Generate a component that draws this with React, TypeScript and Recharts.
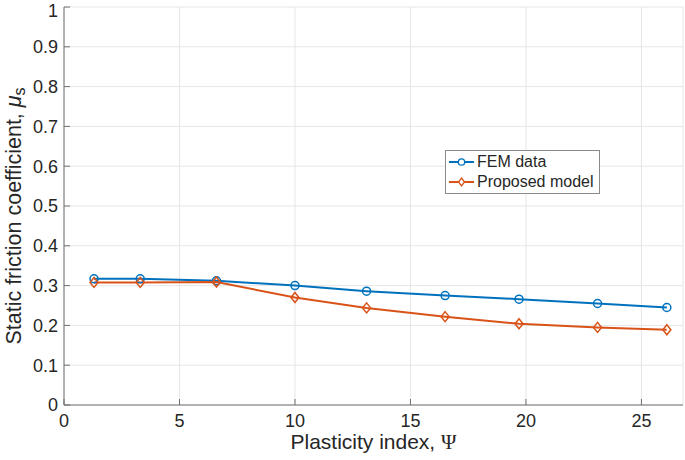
import { CartesianGrid, Legend, Line, LineChart, XAxis, YAxis } from "recharts";

const psi = [1.3, 3.3, 6.6, 10, 13.1, 16.5, 19.7, 23.1, 26.1];
const femData = [0.317, 0.317, 0.312, 0.3, 0.286, 0.275, 0.266, 0.255, 0.245];
const proposedModel = [0.308, 0.308, 0.309, 0.27, 0.244, 0.222, 0.204, 0.195, 0.189];
const xTicks = [0, 5, 10, 15, 20, 25];
const yTicks = [0, 0.1, 0.2, 0.3, 0.4, 0.5, 0.6, 0.7, 0.8, 0.9, 1];

const BLUE = "#0072BD";
const ORANGE = "#D95319";
const AXIS = "#707070";
const TEXT = "#262626";
const FONT = "'Liberation Sans', Arial, sans-serif";
const SERIF = "'Liberation Serif', 'Times New Roman', serif";

const rows = psi.map((x, i) => ({ psi: x, fem: femData[i], model: proposedModel[i] }));

const circleDot = (p: any) => (
  <circle key={`c${p.index}`} cx={p.cx} cy={p.cy} r={4} fill="none" stroke={BLUE} strokeWidth={1.5} />
);

const diamondDot = (p: any) => (
  <polygon
    key={`d${p.index}`}
    points={`${p.cx},${p.cy - 5} ${p.cx + 4},${p.cy} ${p.cx},${p.cy + 5} ${p.cx - 4},${p.cy}`}
    fill="none"
    stroke={ORANGE}
    strokeWidth={1.5}
  />
);

function LegendBox() {
  const item = (label: string, color: string, marker: "o" | "d") => (
    <div style={{ display: "flex", alignItems: "center", height: 20 }}>
      <svg width={30} height={14}>
        <line x1={2} x2={27} y1={7} y2={7} stroke={color} strokeWidth={2} />
        {marker === "o" ? (
          <circle cx={14.5} cy={7} r={3.2} fill="white" stroke={color} strokeWidth={1.3} />
        ) : (
          <polygon points="14.5,3 17.5,7 14.5,11 11.5,7" fill="white" stroke={color} strokeWidth={1.3} />
        )}
      </svg>
      <span>{label}</span>
    </div>
  );
  return (
    <div
      style={{
        border: "1px solid #8a8a8a",
        background: "white",
        padding: "1px 5px 1px 1px",
        fontFamily: FONT,
        fontSize: 16,
        color: TEXT,
        lineHeight: "20px",
      }}
    >
      {item("FEM data", BLUE, "o")}
      {item("Proposed model", ORANGE, "d")}
    </div>
  );
}

const yLabel = (props: any) => {
  const vb = props.viewBox;
  const cx = 14;
  const cy = vb.y + vb.height / 2 + 10;
  return (
    <text
      x={cx}
      y={cy}
      transform={`rotate(-90, ${cx}, ${cy})`}
      textAnchor="middle"
      dominantBaseline="central"
      fill={TEXT}
      fontSize={21.5}
      fontFamily={FONT}
    >
      Static friction coefficient,{" "}
      <tspan fontStyle="italic">μ</tspan>
      <tspan dy={5} fontSize={16}>s</tspan>
    </text>
  );
};

const xLabel = (props: any) => {
  const vb = props.viewBox;
  return (
    <text
      x={vb.x + vb.width / 2}
      y={449}
      textAnchor="middle"
      fill={TEXT}
      fontSize={21}
      fontFamily={FONT}
    >
      Plasticity index, <tspan fontFamily={SERIF}>Ψ</tspan>
    </text>
  );
};

export default function App() {
  return (
    <div style={{ position: "absolute", left: 0, top: 0, background: "white" }}>
      <LineChart
        width={685}
        height={460}
        data={rows}
        margin={{ top: 7, right: 2, bottom: 5, left: 24 }}
        style={{ fontFamily: FONT }}
      >
        <CartesianGrid stroke="#e6e6e6" strokeWidth={1} />
        <XAxis
          xAxisId={0}
          dataKey="psi"
          type="number"
          domain={[0, 26.8]}
          ticks={xTicks}
          allowDataOverflow
          height={50}
          stroke={AXIS}
          tickSize={-6}
          tickMargin={15}
          tick={{ fill: TEXT, fontSize: 18 }}
          label={{ content: xLabel }}
        />
        <XAxis
          xAxisId="top"
          dataKey="psi"
          type="number"
          orientation="top"
          domain={[0, 26.8]}
          ticks={xTicks}
          allowDataOverflow
          height={0}
          stroke={AXIS}
          tickSize={-6}
          tick={false}
        />
        <YAxis
          yAxisId={0}
          type="number"
          domain={[0, 1]}
          ticks={yTicks}
          width={40}
          stroke={AXIS}
          tickSize={-6}
          tickMargin={12}
          tick={{ fill: TEXT, fontSize: 18 }}
          label={{ content: yLabel }}
        />
        <YAxis
          yAxisId="right"
          orientation="right"
          type="number"
          domain={[0, 1]}
          ticks={yTicks}
          width={0}
          stroke={AXIS}
          tickSize={-6}
          tick={false}
        />
        <Legend
          layout="vertical"
          align="center"
          verticalAlign="middle"
          wrapperStyle={{ left: 445, top: 150, width: "auto" }}
          content={() => <LegendBox />}
        />
        <Line
          dataKey="fem"
          stroke={BLUE}
          strokeWidth={2}
          dot={circleDot}
          isAnimationActive={false}
        />
        <Line
          dataKey="model"
          stroke={ORANGE}
          strokeWidth={2}
          dot={diamondDot}
          isAnimationActive={false}
        />
      </LineChart>
    </div>
  );
}
